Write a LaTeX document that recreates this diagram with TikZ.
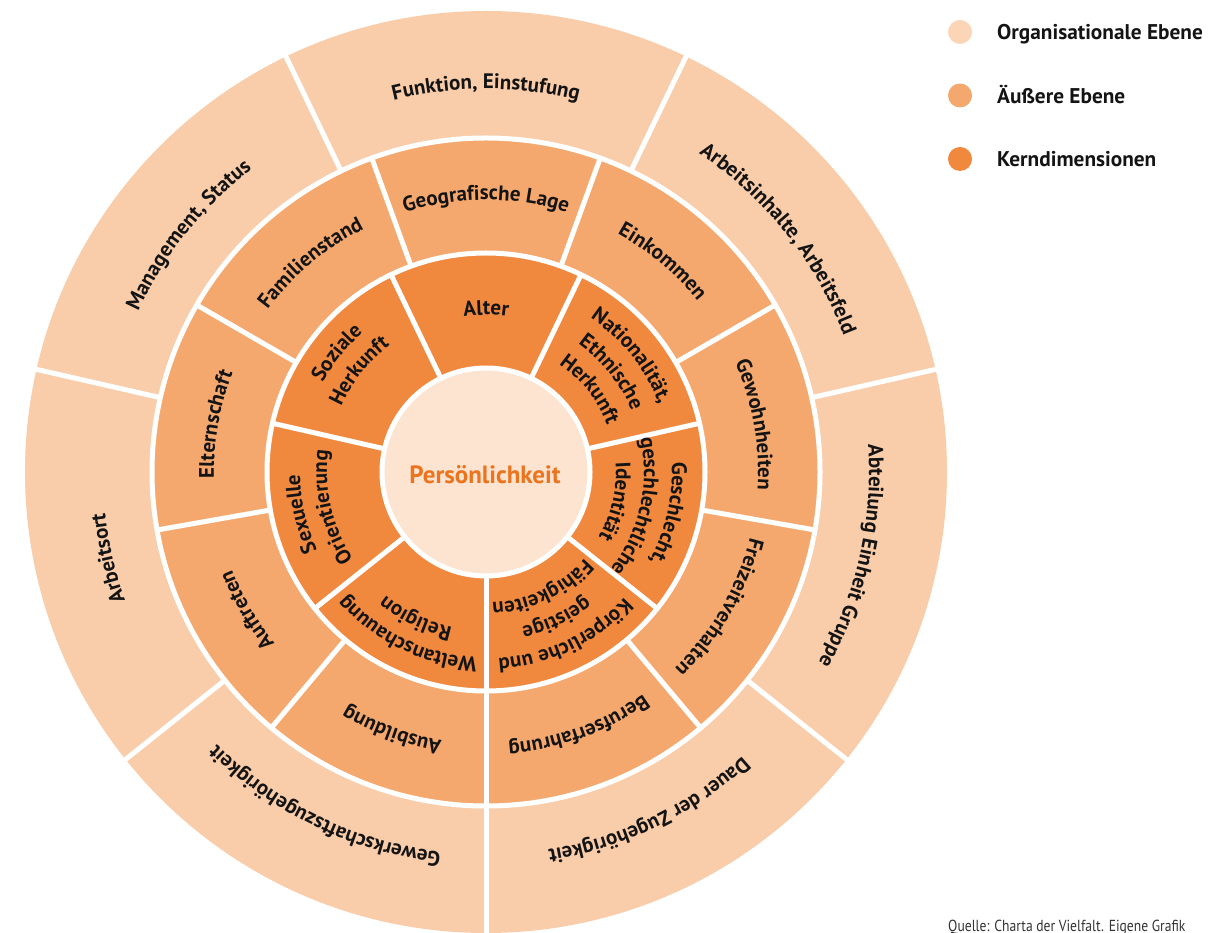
\documentclass[tikz,border=0pt]{standalone}
\usepackage{fontspec}
\setmainfont{PT Sans}
\usetikzlibrary{decorations.text}

\definecolor{orgc}{HTML}{F9CCAA}
\definecolor{orgleg}{HTML}{FCD5B6}
\definecolor{midc}{HTML}{F5A86E}
\definecolor{corec}{HTML}{F0883E}
\definecolor{innerc}{HTML}{FDE4D0}
\definecolor{perso}{HTML}{EC741E}
\definecolor{txt}{HTML}{141414}

\newcommand\lblfont{\fontsize{21}{25}\selectfont\bfseries\color{txt}}

% angle, baseline radius, text
\newcommand\arctext[3]{%
  \path[decorate, decoration={text along path, text align=center, text={|\lblfont|#3}}]
    ({#1+70}:#2pt) arc[start angle={#1+70}, end angle={#1-70}, radius=#2pt];
}

\tikzset{
  sep/.style={white, line width=5pt},
  legendtext/.style={anchor=base west, inner sep=0pt, font=\fontsize{21.3}{25}\selectfont\bfseries, text=txt},
}

\begin{document}
\begin{tikzpicture}[x=1pt,y=1pt]
\useasboundingbox (0,0) rectangle (1223,932);
\fill[white] (0,0) rectangle (1223,932);
\coordinate (C) at (486,460);

\begin{scope}[shift={(C)}]
  % rings
  \fill[orgc] (0,0) circle[radius=461pt];
  \fill[midc] (0,0) circle[radius=334pt];
  \fill[corec] (0,0) circle[radius=219pt];
  \fill[innerc] (0,0) circle[radius=104pt];
  \draw[sep] (0,0) circle[radius=334pt];
  \draw[sep] (0,0) circle[radius=219pt];
  \draw[sep] (0,0) circle[radius=104pt];
  % separators outer ring
  \foreach \a in {270,321.43,12.86,64.29,115.71,167.14,218.57}
    \draw[sep] (\a:334pt) -- (\a:470pt);
  % separators middle ring
  \foreach \a in {270,310,350,30,70,110,150,190,230}
    \draw[sep] (\a:219pt) -- (\a:334pt);
  % separators core ring
  \foreach \a in {270,321.43,12.86,64.29,115.71,167.14,218.57}
    \draw[sep] (\a:104pt) -- (\a:219pt);

  % outer labels
  \arctext{90}{383}{Funktion, Einstufung}
  \arctext{38.57}{383}{Arbeitsinhalte, Arbeitsfeld}
  \arctext{-12.86}{383}{Abteilung Einheit Gruppe}
  \arctext{-64.29}{383}{Dauer der Zugehörigkeit}
  \arctext{-115.71}{383}{Gewerkschaftszugehörigkeit}
  \arctext{192.86}{383}{Arbeitsort}
  \arctext{141.43}{383}{Management, Status}

  % middle labels
  \arctext{90}{272}{Geografische Lage}
  \arctext{50}{272}{Einkommen}
  \arctext{10}{272}{Gewohnheiten}
  \arctext{-30}{272}{Freizeitverhalten}
  \arctext{-70}{272}{Berufserfahrung}
  \arctext{-110}{272}{Ausbildung}
  \arctext{210}{272}{Auftreten}
  \arctext{170}{272}{Elternschaft}
  \arctext{130}{272}{Familienstand}

  % core labels
  \arctext{90}{157}{Alter}
  \arctext{38.57}{186}{Nationalität,}
  \arctext{38.57}{158}{Ethnische}
  \arctext{38.57}{130}{Herkunft}
  \arctext{-12.86}{186}{Geschlecht,}
  \arctext{-12.86}{158}{geschlechtliche}
  \arctext{-12.86}{130}{Identität}
  \arctext{-64.29}{187}{Körperliche und}
  \arctext{-64.29}{159}{geistige}
  \arctext{-64.29}{131}{Fähigkeiten}
  \arctext{-115.71}{186}{Weltanschauung}
  \arctext{-115.71}{159}{Religion}
  \arctext{192.86}{186}{Sexuelle}
  \arctext{192.86}{159}{Orientierung}
  \arctext{141.43}{186}{Soziale}
  \arctext{141.43}{159}{Herkunft}
\end{scope}

\node[anchor=base, inner sep=0pt, font=\fontsize{25}{29}\selectfont\bfseries, text=perso] (perso) at (485,448) {Persönlichkeit};

% legend
\fill[orgleg] (960,900) circle[radius=12pt];
\fill[midc] (960,836.5) circle[radius=12pt];
\fill[corec] (960,773) circle[radius=12pt];
\node[legendtext] (l1) at (997,892) {Organisationale Ebene};
\node[legendtext] (l2) at (997,828) {Äußere Ebene};
\node[legendtext] (l3) at (997,765) {Kerndimensionen};

% source
\node[anchor=base west, inner sep=0pt, font=\fontsize{16}{16}\selectfont, text=black!80] (src) at (948,1) {\scalebox{0.85}[1]{Quelle: Charta der Vielfalt. Eigene Grafik}};
\end{tikzpicture}
\end{document}
